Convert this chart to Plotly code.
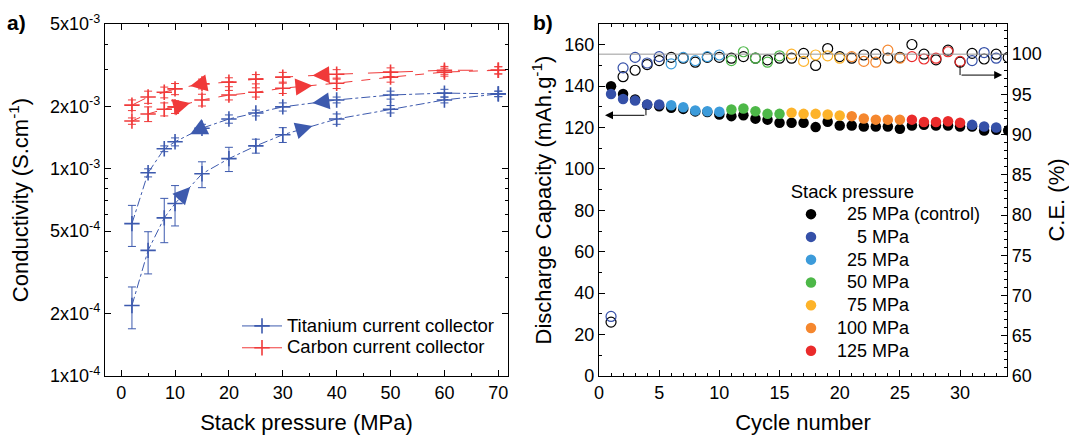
import numpy as np
import plotly.graph_objects as go

# ---------------- Panel a data ----------------
pressure = [2, 5, 8, 10, 15, 20, 25, 30, 40, 50, 60, 70]
ti_load = [2.19e-4, 4.04e-4, 5.8e-4, 6.8e-4, 9.46e-4, 1.12e-3, 1.29e-3, 1.46e-3, 1.74e-3, 1.94e-3, 2.15e-3, 2.30e-3]
ti_load_err = [5.0e-5, 9.3e-5, 1.4e-4, 1.5e-4, 1.35e-4, 1.5e-4, 1.0e-4, 1.2e-4, 1.0e-4, 8e-5, 7e-5, 7e-5]
ti_unload = [5.44e-4, 9.57e-4, 1.25e-3, 1.35e-3, 1.57e-3, 1.74e-3, 1.86e-3, 1.99e-3, 2.15e-3, 2.27e-3, 2.32e-3, 2.30e-3]
ti_unload_err = [1.22e-4, 4.3e-5, 4e-5, 6e-5, 7e-5, 8e-5, 6e-5, 9e-5, 7e-5, 1e-4, 1e-4, 7e-5]
c_load = [1.70e-3, 1.84e-3, 1.94e-3, 1.99e-3, 2.15e-3, 2.27e-3, 2.34e-3, 2.45e-3, 2.59e-3, 2.77e-3, 2.93e-3, 2.99e-3]
c_load_err = [6e-5, 1.5e-4, 1.4e-4, 1.4e-4, 1.4e-4, 1.2e-4, 1.2e-4, 1.4e-4, 1.5e-4, 1.5e-4, 1.3e-4, 1.2e-4]
c_unload = [2.03e-3, 2.22e-3, 2.34e-3, 2.43e-3, 2.57e-3, 2.62e-3, 2.71e-3, 2.77e-3, 2.86e-3, 2.93e-3, 2.99e-3, 2.99e-3]
c_unload_err = [1.2e-4, 1.5e-4, 1.4e-4, 1.5e-4, 1.4e-4, 1.3e-4, 1.4e-4, 1.5e-4, 1.5e-4, 1.4e-4, 1.3e-4, 1.2e-4]
arrow_x = [12.8, 35.5]

y_tickvals = [1e-4, 2e-4, 5e-4, 1e-3, 2e-3, 5e-3]
y_ticktext = ["1x10<sup>-4</sup>", "2x10<sup>-4</sup>", "5x10<sup>-4</sup>",
              "1x10<sup>-3</sup>", "2x10<sup>-3</sup>", "5x10<sup>-3</sup>"]
y_minor = [3e-4, 4e-4, 6e-4, 7e-4, 8e-4, 9e-4, 3e-3, 4e-3]

# ---------------- Panel b data ----------------
ctrl_cycle = list(range(1, 35))
ctrl_cap = [139.9, 136.2, 133.5, 131.0, 130.3, 129.5, 129.0, 127.8, 127.5, 126.3,
            125.5, 125.9, 124.3, 123.8, 122.3, 122.3, 122.3, 120.2, 122.8, 121.0,
            121.0, 120.5, 120.5, 120.5, 119.4, 121.0, 121.3, 121.0, 121.0, 120.5,
            120.5, 118.6, 118.9, 118.6]
ctrl_ce = [66.7, 97.2, 98.0, 98.7, 99.2, 99.6, 99.5, 99.0, 99.6, 99.6,
           99.5, 99.7, 99.5, 99.3, 99.5, 99.5, 100.1, 98.6, 100.7, 99.7,
           99.5, 99.9, 100.0, 99.5, 99.6, 101.2, 100.0, 99.3, 100.5, 99.0,
           100.1, 99.4, 100.0, 99.6]

test_cycle = list(range(1, 34))
test_pressure = ["5"] * 5 + ["25"] * 5 + ["50"] * 5 + ["75"] * 5 + ["100"] * 5 + ["125"] * 5 + ["5"] * 3
test_cap = [136.2, 133.8, 133.0, 131.1, 131.1, 130.8, 129.8, 128.2, 127.9, 127.6,
            128.7, 129.2, 127.9, 126.6, 126.6, 127.1, 126.6, 126.6, 126.3, 125.8,
            125.5, 124.4, 123.8, 123.8, 123.8, 123.8, 122.7, 122.7, 123.0, 122.3,
            121.3, 120.5, 120.0]
test_ce = [67.4, 98.3, 99.6, 98.9, 99.7, 98.8, 99.6, 99.2, 99.7, 99.9,
           99.2, 100.3, 99.5, 99.0, 99.8, 100.0, 99.1, 99.9, 99.8, 99.5,
           99.7, 99.1, 99.0, 100.5, 99.5, 99.7, 99.4, 99.5, 100.3, 99.1,
           99.2, 100.2, 99.5]

pressure_levels = ["5", "25", "50", "75", "100", "125"]
pressure_labels = ["\u2007\u20075 MPa", "\u200725 MPa", "\u200750 MPa", "\u200775 MPa", "100 MPa", "125 MPa"]
pressure_colors = ["#3550A8", "#3C9BDA", "#4DB848", "#FDB32A", "#F5872E", "#EA2B2B"]
control_label = "\u200725 MPa (control)"

# ---------------- layout constants ----------------
W, H = 1069, 436
FONT = "Liberation Sans, Arial, sans-serif"
ax_dom = [105 / W, 508 / W]
bx_dom = [599 / W, 1007 / W]
y_dom = [1 - 376 / H, 1 - 24 / H]
xa_range = [-3, 71.8]
ya_range = [np.log10(1e-4), np.log10(5e-3)]
TI_COL = "#3D5AAE"
C_COL = "#F03A3A"


def big(txt, size):
    return '<span style="font-size:%gpx">%s</span>' % (size, txt)


fig = go.Figure()

px_per_x = (ax_dom[1] - ax_dom[0]) * W / (xa_range[1] - xa_range[0])
px_per_dec = (y_dom[1] - y_dom[0]) * H / (ya_range[1] - ya_range[0])


def add_curve(ys, errs, color, dash, direction):
    fig.add_trace(go.Scatter(
        x=pressure, y=ys, mode="lines+markers", showlegend=False,
        line=dict(color=color, width=1, dash=dash),
        marker=dict(symbol="cross-thin", size=11, line=dict(color=color, width=1.6)),
        error_y=dict(type="data", array=errs, color=color, thickness=1, width=4),
        xaxis="x", yaxis="y"))
    lx = np.array(pressure, float)
    ly = np.log10(np.array(ys))
    ax_, ay_, ang = [], [], []
    for xv in arrow_x:
        yv = np.interp(xv, lx, ly)
        y1 = np.interp(xv - 1.5, lx, ly)
        y2 = np.interp(xv + 1.5, lx, ly)
        dxp = 3 * px_per_x
        dyp = (y2 - y1) * px_per_dec
        ax_.append(xv)
        ay_.append(10 ** yv)
        ang.append(-np.degrees(np.arctan2(dyp, dxp)))
    fig.add_trace(go.Scatter(
        x=ax_, y=ay_, mode="markers", showlegend=False, hoverinfo="skip",
        marker=dict(symbol="arrow-right" if direction > 0 else "arrow-left",
                    size=17, color=color, angle=ang, line=dict(width=0)),
        xaxis="x", yaxis="y"))


add_curve(c_unload, c_unload_err, C_COL, "longdash", -1)
add_curve(c_load, c_load_err, C_COL, "dash", 1)
add_curve(ti_unload, ti_unload_err, TI_COL, "dashdot", -1)
add_curve(ti_load, ti_load_err, TI_COL, "dashdot", 1)

for name, col in [("Titanium current collector", TI_COL), ("Carbon current collector", C_COL)]:
    fig.add_trace(go.Scatter(
        x=[None], y=[None], mode="lines+markers", name=big(name, 18.5), legend="legend",
        line=dict(color=col, width=1),
        marker=dict(symbol="cross-thin", size=11, line=dict(color=col, width=1.6)),
        xaxis="x", yaxis="y"))

# ---------------- panel b traces ----------------
fig.add_trace(go.Scatter(
    x=ctrl_cycle, y=ctrl_ce, mode="markers", showlegend=False,
    marker=dict(symbol="circle-open", size=10, color="black", line=dict(width=1.2)),
    xaxis="x2", yaxis="y3"))
fig.add_trace(go.Scatter(
    x=ctrl_cycle, y=ctrl_cap, mode="markers", name=big(control_label, 18), legend="legend2",
    marker=dict(symbol="circle", size=10.5, color="black"),
    xaxis="x2", yaxis="y2"))

for lvl, lab, col in zip(pressure_levels, pressure_labels, pressure_colors):
    idx = [i for i, p in enumerate(test_pressure) if p == lvl]
    cx = [test_cycle[i] for i in idx]
    fig.add_trace(go.Scatter(
        x=cx, y=[test_ce[i] for i in idx], mode="markers", showlegend=False,
        marker=dict(symbol="circle-open", size=10, color=col, line=dict(width=1.2)),
        xaxis="x2", yaxis="y3"))
    fig.add_trace(go.Scatter(
        x=cx, y=[test_cap[i] for i in idx], mode="markers", name=big(lab, 18), legend="legend2",
        marker=dict(symbol="circle", size=10.5, color=col),
        xaxis="x2", yaxis="y2"))

# reference line at 100 % and indicator arrows
shapes = [
    dict(type="line", xref="x2 domain", yref="y3", x0=0, x1=1, y0=100, y1=100,
         line=dict(color="#9A9A9A", width=1)),
    dict(type="line", xref="x2", yref="y2", x0=3.9, x1=3.9, y0=129.3, y1=125.9,
         line=dict(color="black", width=1)),
    dict(type="line", xref="x2", yref="y3", x0=30, x1=30, y0=98.6, y1=97.4,
         line=dict(color="black", width=1)),
]
annotations = [
    dict(x=0.5, y=125.9, ax=3.9, ay=125.9, xref="x2", yref="y2", axref="x2", ayref="y2",
         showarrow=True, arrowhead=2, arrowsize=1.6, arrowwidth=1, arrowcolor="black", text=""),
    dict(x=33.5, y=97.4, ax=30, ay=97.4, xref="x2", yref="y3", axref="x2", ayref="y3",
         showarrow=True, arrowhead=2, arrowsize=1.6, arrowwidth=1, arrowcolor="black", text=""),
    dict(x=5 / W, y=1 - 22 / H, xref="paper", yref="paper", text="<b>a)</b>", showarrow=False,
         xanchor="left", yanchor="middle", font=dict(size=21, color="black", family=FONT)),
    dict(x=531 / W, y=1 - 22 / H, xref="paper", yref="paper", text="<b>b)</b>", showarrow=False,
         xanchor="left", yanchor="middle", font=dict(size=21, color="black", family=FONT)),
]

tickfont = dict(size=18, color="black", family=FONT)
titlefont = dict(size=22, color="black", family=FONT)
common = dict(showline=True, linecolor="black", linewidth=1.3, ticks="inside", ticklen=6,
              tickwidth=1.2, tickcolor="black", showgrid=False, zeroline=False, tickfont=tickfont,
              automargin=False)

fig.update_layout(
    width=W, height=H, margin=dict(l=0, r=0, t=0, b=0, autoexpand=False),
    paper_bgcolor="white", plot_bgcolor="white",
    font=dict(family=FONT, color="black"),
    shapes=shapes, annotations=annotations,
    xaxis=dict(domain=ax_dom, range=xa_range, anchor="y", mirror="ticks",
               tickvals=[0, 10, 20, 30, 40, 50, 60, 70],
               minor=dict(tickvals=[5, 15, 25, 35, 45, 55, 65], ticks="inside", ticklen=3, tickcolor="black"),
               title=dict(text="Stack pressure (MPa)", font=titlefont, standoff=12), **common),
    yaxis=dict(domain=y_dom, type="log", range=ya_range, anchor="x", mirror="ticks",
               tickvals=y_tickvals, ticktext=y_ticktext,
               minor=dict(tickvals=y_minor, ticks="inside", ticklen=3, tickcolor="black"),
               title=dict(text="Conductivity (S.cm<sup>-1</sup>)", font=titlefont, standoff=15), **common),
    xaxis2=dict(domain=bx_dom, range=[0, 33.9], anchor="y2", mirror="ticks", dtick=5,
                minor=dict(dtick=1, ticks="inside", ticklen=3, tickcolor="black"),
                title=dict(text="Cycle number", font=titlefont, standoff=12), **common),
    yaxis2=dict(domain=y_dom, range=[0, 170], anchor="x2", dtick=20,
                minor=dict(dtick=10, ticks="inside", ticklen=3, tickcolor="black"),
                title=dict(text="Discharge Capacity (mAh.g<sup>-1</sup>)", font=titlefont, standoff=6), **common),
    yaxis3=dict(overlaying="y2", side="right", anchor="x2", range=[60, 103.75],
                tickvals=[60, 65, 70, 75, 80, 85, 90, 95, 100],
                minor=dict(dtick=1, ticks="inside", ticklen=3, tickcolor="black"),
                title=dict(text="C.E. (%)", font=titlefont, standoff=10), **common),
    legend=dict(x=237 / W, y=1 - 310 / H, xanchor="left", yanchor="top",
                bgcolor="rgba(0,0,0,0)", font=dict(size=14.5, color="black", family=FONT),
                itemwidth=40, tracegroupgap=0),
    legend2=dict(x=785 / W, y=1 - 178 / H, xanchor="left", yanchor="top",
                 bgcolor="rgba(0,0,0,0)", font=dict(size=15.2, color="black", family=FONT),
                 title=dict(text=big("\u2009Stack pressure", 18.5), font=dict(size=15.2, color="black", family=FONT)),
                 itemwidth=42, tracegroupgap=0),
)

fig.write_html("out.html", config={"displayModeBar": False},
               post_script="document.body.style.margin='0px';")
